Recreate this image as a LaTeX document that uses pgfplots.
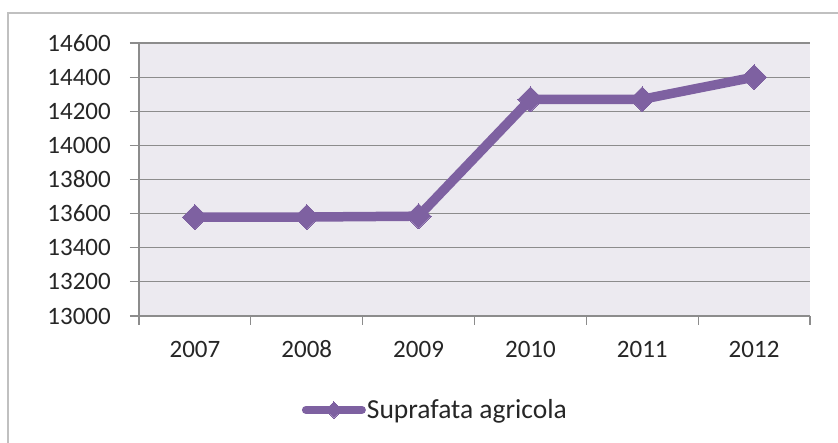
\documentclass[border=0pt]{standalone}
\usepackage{fontspec}
\setmainfont{Carlito}
\usepackage{pgfplots}
\pgfplotsset{compat=1.18}
\definecolor{linepurple}{HTML}{7E61A1}
\definecolor{plotbg}{HTML}{ECEAF0}
\definecolor{gridgray}{HTML}{8C8C8C}
\definecolor{framegray}{HTML}{C0C0C0}

\begin{document}
\begin{tikzpicture}[x=1bp,y=1bp]
\useasboundingbox (0,0) rectangle (838,443);
\clip (0,0) rectangle (838,443);
\draw[framegray, line width=1.5bp] (8,430) rectangle (870,-20);
\begin{axis}[
  at={(139bp,127bp)}, anchor=south west,
  scale only axis, width=671bp, height=273bp,
  xmin=-0.5, xmax=5.5, ymin=13000, ymax=14600,
  scaled y ticks=false,
  axis background/.style={fill=plotbg},
  axis x line*=bottom, axis y line*=left,
  axis line style={gridgray, line width=1.2bp},
  tick align=outside, major tick length=9bp,
  tick style={gridgray, line width=1.2bp},
  ytick={13000,13200,...,14600},
  yticklabels={13000,13200,13400,13600,13800,14000,14200,14400,14600},
  xtick={-0.5,0.5,...,5.5}, xticklabels={},
  extra x ticks={0,1,2,3,4,5},
  extra x tick labels={2007,2008,2009,2010,2011,2012},
  extra x tick style={major tick length=0pt, grid=none,
    xticklabel style={anchor=base, inner sep=0pt, yshift=-42bp}},
  ymajorgrids, major grid style={gridgray, line width=1.2bp},
  tick label style={font=\fontsize{25bp}{30bp}\selectfont, text=black!85},
  yticklabel style={anchor=east, inner sep=0pt, xshift=-19bp},
  legend style={at={(0.441,-0.344)}, anchor=center, draw=none, fill=none,
    font=\fontsize{27.5bp}{32bp}\selectfont, text=black!85,
    inner sep=0pt, nodes={inner sep=1bp}},
  legend image code/.code={%
    \draw[mark repeat=2, mark phase=2, #1, line width=8bp, mark size=5.8bp]
      plot coordinates {(0bp,0bp) (28bp,0bp) (56bp,0bp)};},
]
\addplot[linepurple, line width=9.5bp, line cap=round, line join=round,
  mark=square*, mark size=8.8bp, mark options={rotate=45, line width=0pt, fill=linepurple}]
  coordinates {
  (0, 13580)
  (1, 13580)
  (2, 13585)
  (3, 14270)
  (4, 14270)
  (5, 14400)
};
\addlegendentry{Suprafata agricola}
\end{axis}
\end{tikzpicture}
\end{document}
